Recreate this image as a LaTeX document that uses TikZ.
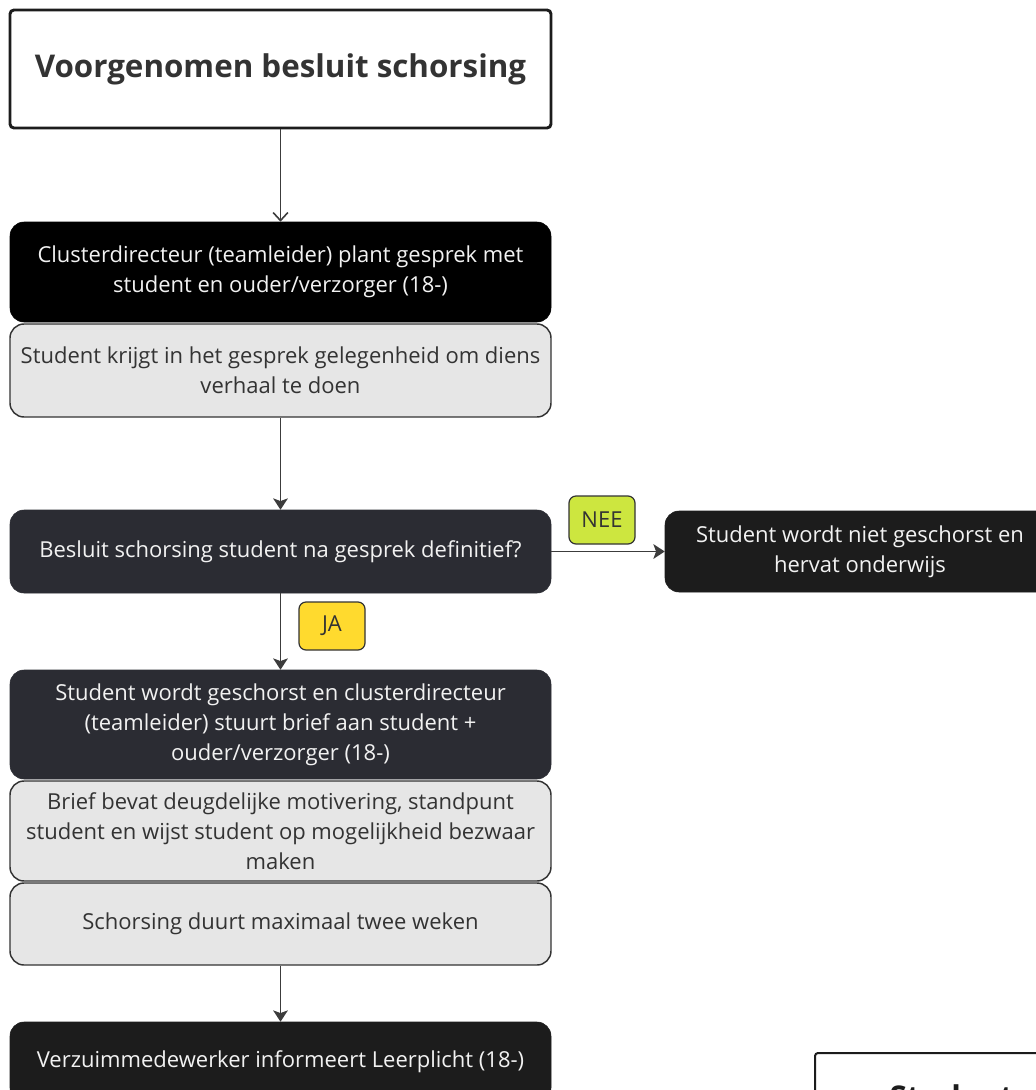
\documentclass[tikz,border=0pt]{standalone}
\usepackage{fontspec}
\setmainfont{Open Sans}
\usetikzlibrary{arrows.meta}
\newlength\px
\setlength\px{0.75pt}
\definecolor{txtdark}{HTML}{333333}
\definecolor{boxblack}{HTML}{000000}
\definecolor{boxslate}{HTML}{2B2C33}
\definecolor{boxcoal}{HTML}{1C1C1C}
\definecolor{boxgray}{HTML}{E6E6E6}
\definecolor{linegray}{HTML}{3C3C3C}
\definecolor{neegreen}{HTML}{CDE63F}
\definecolor{jayellow}{HTML}{FFDA2E}
\tikzset{
  base/.style={rectangle, rounded corners=14\px, minimum width=541\px, align=center, inner sep=0pt,
    font=\fontsize{16.5}{22.5}\selectfont},
  darkbox/.style={base, fill=#1, draw=#1, text=white!95!black},
  graybox/.style={base, fill=boxgray, draw=txtdark, line width=1.1pt, text=txtdark},
  titlebox/.style={rectangle, rounded corners=4\px, minimum width=541\px, minimum height=118\px,
    fill=white, draw=boxcoal, line width=2.2pt, text=txtdark, font=\fontsize{23.5}{28}\selectfont\bfseries},
  tag/.style={rectangle, rounded corners=7\px, minimum width=66\px, minimum height=48\px, draw=txtdark,
    line width=0.9pt, text=txtdark, font=\fontsize{16.5}{20}\selectfont},
  conn/.style={draw=linegray, line width=1.2pt},
  openhead/.style={conn, -{Straight Barb[length=6pt,width=11pt,line width=1.2pt]}},
  fillhead/.style={conn, -{Stealth[length=8.5pt,width=11pt,inset=2pt]}},
}
\begin{document}
\begin{tikzpicture}[x=0.75pt,y=-0.75pt]
\useasboundingbox (0,0) rectangle (1036,1090);

\node[titlebox] (title) at (280.5,69) {Voorgenomen besluit schorsing};

\node[darkbox=boxblack, minimum height=100\px] (plant) at (280.5,272)
  {Clusterdirecteur (teamleider) plant gesprek met\\student en ouder/verzorger (18-)};
\node[graybox, minimum height=93\px] (verhaal) at (280.5,370.5)
  {Student krijgt in het gesprek gelegenheid om diens\\verhaal te doen};

\node[darkbox=boxslate, minimum height=83\px] (besluit) at (280.5,551.5)
  {Besluit schorsing student na gesprek definitief?};

\node[darkbox=boxcoal, minimum width=390\px, minimum height=81\px] (niet) at (860,551.5)
  {Student wordt niet geschorst en\\hervat onderwijs};

\node[tag, fill=neegreen] (nee) at (602,520) {NEE};
\node[tag, fill=jayellow] (ja) at (332,626) {JA};

\node[darkbox=boxslate, minimum height=109\px] (geschorst) at (280.5,724.5)
  {Student wordt geschorst en clusterdirecteur\\(teamleider) stuurt brief aan student +\\ouder/verzorger (18-)};
\node[graybox, minimum height=100\px] (brief) at (280.5,831)
  {Brief bevat deugdelijke motivering, standpunt\\student en wijst student op mogelijkheid bezwaar\\maken};
\node[graybox, minimum height=82\px] (duur) at (280.5,924)
  {Schorsing duurt maximaal twee weken};

\node[darkbox=boxcoal, minimum height=80\px] (leerplicht) at (280.5,1062)
  {Verzuimmedewerker informeert Leerplicht (18-)};

\node[rectangle, rounded corners=3\px, draw=boxcoal, fill=white, line width=1.5pt,
  minimum width=300\px, minimum height=110\px, anchor=north west] (wil) at (814,1052) {};
\node[anchor=base west, text=boxcoal, font=\fontsize{23.5}{28}\selectfont\bfseries] (wiltxt) at (885,1108) {Student wil};

\draw[openhead] (title.south) -- (plant.north);
\draw[fillhead] (verhaal.south) -- (besluit.north);
\draw[fillhead] (besluit.east) -- (niet.west);
\draw[fillhead] (besluit.south) -- (geschorst.north);
\draw[fillhead] (duur.south) -- (leerplicht.north);
\end{tikzpicture}
\end{document}
